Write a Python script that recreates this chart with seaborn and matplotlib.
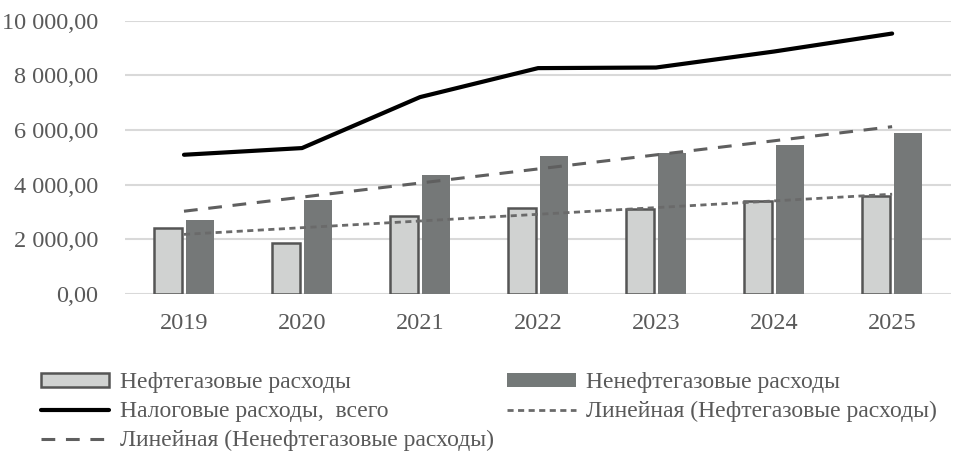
import matplotlib
matplotlib.use("Agg")
import matplotlib.pyplot as plt
import matplotlib.ticker as mticker
from matplotlib.patches import Patch
from matplotlib.lines import Line2D
import seaborn as sns
import numpy as np
import pandas as pd

# --- data ---
years = [2019, 2020, 2021, 2022, 2023, 2024, 2025]
oil_gas = [2415, 1877, 2865, 3147, 3110, 3414, 3597]
non_oil_gas = [2693, 3425, 4365, 5060, 5159, 5452, 5891]
total = [5097, 5342, 7208, 8269, 8291, 8877, 9535]

lbl_oil = "Нефтегазовые расходы"
lbl_non = "Ненефтегазовые расходы"
lbl_total = "Налоговые расходы,  всего"
lbl_tr_oil = "Линейная (Нефтегазовые расходы)"
lbl_tr_non = "Линейная (Ненефтегазовые расходы)"

sns.set_theme(style="white")
plt.rcParams.update({
    "font.family": ["Liberation Serif", "DejaVu Serif"],
    "font.size": 17.5,
    "text.color": "#595959",
    "xtick.color": "#595959",
    "ytick.color": "#595959",
})

TXT = "#595959"
LIGHT = "#d0d2d1"
DARK = "#747978"
EDGE = "#555555"

bars = pd.DataFrame({
    "year": years * 2,
    "value": oil_gas + non_oil_gas,
    "kind": [lbl_oil] * len(years) + [lbl_non] * len(years),
})

fig = plt.figure(figsize=(9.54, 4.53), dpi=100)
ax = fig.add_axes([0.131, 0.351, 0.866, 0.603])

sns.barplot(data=bars, x="year", y="value", hue="kind", native_scale=True,
            palette=[LIGHT, DARK], width=0.54, gap=0.14, legend=False, ax=ax,
            zorder=2)
for patch in ax.containers[0]:
    patch.set_edgecolor(EDGE)
    patch.set_linewidth(1.8)
for patch in ax.containers[1]:
    patch.set_edgecolor("none")

sns.lineplot(x=years, y=total, color="black", linewidth=3, ax=ax, zorder=4)

# linear trend lines
yrs = np.array(years, dtype=float)
k1, b1 = np.polyfit(yrs, oil_gas, 1)
k2, b2 = np.polyfit(yrs, non_oil_gas, 1)
sns.lineplot(x=years, y=k1 * yrs + b1, color="#6a6a6a", linewidth=2,
             dashes=False, ax=ax, zorder=3).lines[-1].set_dashes([2.2, 1.6])
sns.lineplot(x=years, y=k2 * yrs + b2, color="#5f5f5f", linewidth=2.2,
             dashes=False, ax=ax, zorder=3).lines[-1].set_dashes([4.5, 3.5])

ax.set_xlim(2018.5, 2025.5)
ax.set_ylim(0, 10000)
ax.set_xticks(years)
ax.set_xticklabels([str(y) for y in years])
ax.set_yticks(range(0, 10001, 2000))
ax.yaxis.set_major_formatter(mticker.FuncFormatter(
    lambda v, p: f"{v:,.2f}".replace(",", " ").replace(".", ",")))
ax.grid(axis="y", color="#d9d9d9", linewidth=1.5, zorder=0)
ax.set_axisbelow(True)
for s in ["top", "right", "left", "bottom"]:
    ax.spines[s].set_visible(False)
ax.tick_params(axis="both", length=0, labelsize=17.5, colors=TXT)
ax.tick_params(axis="y", pad=19)
ax.tick_params(axis="x", pad=14)
ax.set_xlabel("")
ax.set_ylabel("")

handles = [
    Patch(facecolor=LIGHT, edgecolor=EDGE, linewidth=1.8),
    Line2D([], [], color="black", linewidth=3),
    Line2D([], [], color="#5f5f5f", linewidth=2.2, dashes=[4.5, 3.5]),
    Patch(facecolor=DARK, edgecolor="none"),
    Line2D([], [], color="#6a6a6a", linewidth=2, dashes=[2.2, 1.6]),
]
labels = [lbl_oil, lbl_total, lbl_tr_non, lbl_non, lbl_tr_oil]
fig.legend(handles, labels, loc="upper left", bbox_to_anchor=(0.043, 0.178),
           ncol=2, frameon=False, fontsize=17, handlelength=2.9,
           handleheight=0.5, handletextpad=0.45, columnspacing=0.55,
           labelspacing=0.33, labelcolor=TXT, borderaxespad=0, borderpad=0)

fig.savefig("out.png", dpi=100)
